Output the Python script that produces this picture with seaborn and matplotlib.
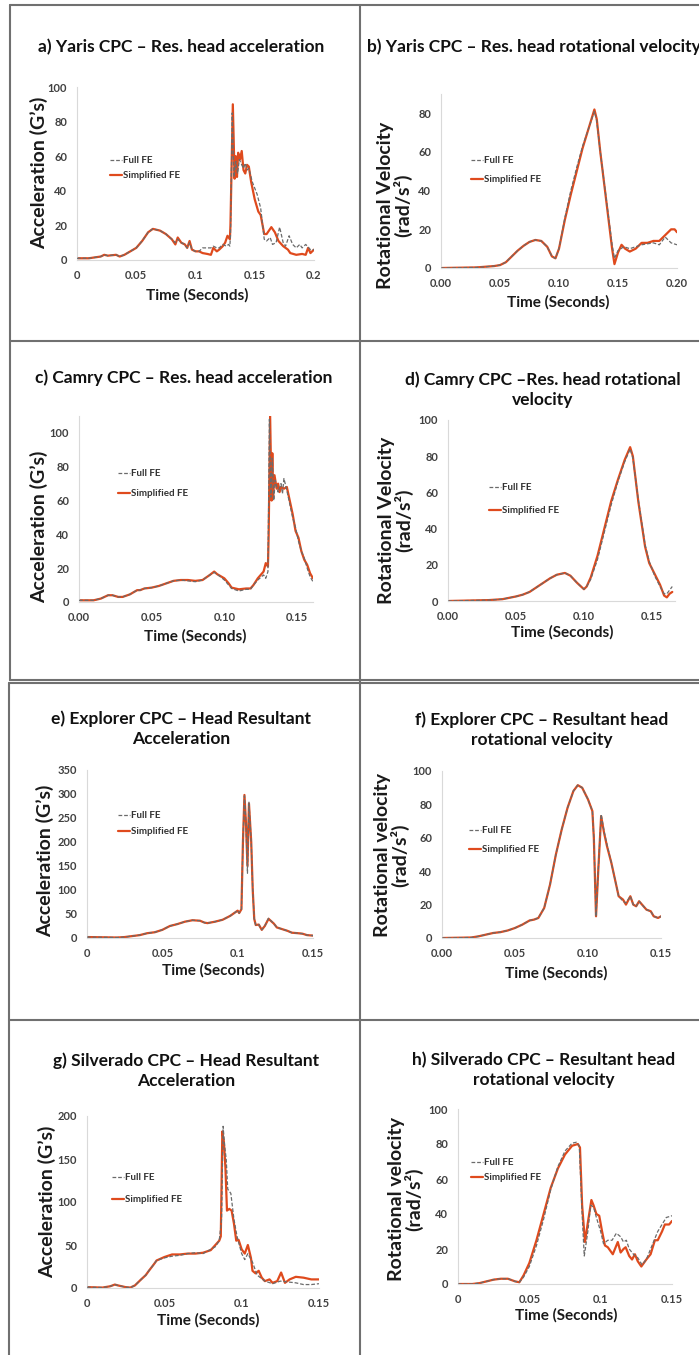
import matplotlib
matplotlib.use('Agg')
import matplotlib.pyplot as plt
import seaborn as sns
from matplotlib.lines import Line2D

# ---- data: (time in s, value) ----
a_full = [(0, 1), (0.01, 1), (0.02, 2), (0.023, 3), (0.026, 2.5), (0.033, 3), (0.036, 2), (0.04, 3), (0.045, 5),
          (0.05, 7), (0.055, 11), (0.06, 16), (0.064, 18), (0.07, 17), (0.075, 15), (0.08, 12), (0.083, 10),
          (0.085, 12), (0.088, 10), (0.091, 9), (0.093, 7), (0.095, 10), (0.097, 6), (0.1, 5), (0.103, 5),
          (0.106, 7), (0.11, 7), (0.113, 7), (0.115, 8), (0.118, 7), (0.12, 7), (0.123, 9), (0.126, 8),
          (0.128, 9), (0.129, 8), (0.1295, 14), (0.131, 85), (0.1325, 48), (0.134, 57), (0.1355, 50),
          (0.137, 58), (0.139, 55), (0.1405, 53), (0.142, 56), (0.1435, 52), (0.145, 53), (0.148, 45),
          (0.152, 38), (0.155, 30), (0.158, 12), (0.16, 11), (0.163, 13), (0.165, 9), (0.168, 10), (0.171, 19),
          (0.174, 10), (0.176, 8), (0.179, 14), (0.182, 9), (0.185, 7), (0.188, 9), (0.19, 7), (0.193, 9),
          (0.197, 6), (0.2, 6)]
a_simp = [(0, 1), (0.01, 1), (0.02, 2), (0.023, 3), (0.026, 2.5), (0.033, 3), (0.036, 2), (0.04, 3), (0.045, 5),
          (0.05, 7), (0.055, 11), (0.06, 16), (0.064, 18), (0.07, 17), (0.075, 15), (0.08, 12), (0.083, 9),
          (0.085, 13), (0.088, 10), (0.091, 9), (0.093, 7), (0.095, 11), (0.097, 6), (0.1, 5), (0.103, 5),
          (0.106, 4), (0.11, 3.5), (0.113, 3), (0.115, 7), (0.118, 5), (0.12, 6), (0.123, 8), (0.125, 10),
          (0.127, 14), (0.129, 12), (0.1295, 20), (0.1315, 90), (0.133, 47), (0.134, 60), (0.135, 48),
          (0.136, 62), (0.1375, 58), (0.139, 63), (0.1405, 52), (0.142, 50), (0.1435, 55), (0.145, 54),
          (0.147, 45), (0.15, 35), (0.153, 28), (0.155, 26), (0.158, 15), (0.16, 15), (0.164, 19), (0.167, 16),
          (0.17, 11), (0.174, 8), (0.178, 6), (0.18, 4), (0.185, 3), (0.19, 3.5), (0.193, 3), (0.195, 7),
          (0.197, 4), (0.2, 6)]

b_full = [(0, 0), (0.03, 0.3), (0.045, 1), (0.05, 1.5), (0.055, 3), (0.06, 6), (0.065, 9), (0.07, 11.5),
          (0.075, 13.5), (0.08, 14.5), (0.085, 14), (0.09, 11), (0.094, 6), (0.097, 5), (0.1, 10), (0.105, 26),
          (0.11, 40), (0.115, 52), (0.12, 63), (0.125, 72), (0.13, 81), (0.132, 76), (0.135, 60), (0.14, 36),
          (0.145, 12), (0.147, 5), (0.15, 9), (0.155, 11), (0.16, 10), (0.165, 11), (0.17, 12), (0.175, 12.5),
          (0.18, 13), (0.185, 12), (0.19, 16), (0.195, 13), (0.2, 12)]
b_simp = [(0, 0), (0.03, 0.3), (0.045, 1), (0.05, 1.5), (0.055, 3), (0.06, 6), (0.065, 9), (0.07, 11.5),
          (0.075, 13.5), (0.08, 14.5), (0.085, 14), (0.09, 11), (0.094, 6), (0.097, 5), (0.1, 10), (0.105, 25),
          (0.11, 38), (0.115, 50), (0.12, 62), (0.125, 72), (0.13, 82), (0.132, 77), (0.135, 60), (0.14, 35),
          (0.145, 10), (0.147, 2), (0.15, 8), (0.153, 12), (0.156, 10), (0.16, 8.5), (0.165, 10), (0.17, 13),
          (0.175, 13), (0.18, 14), (0.185, 14), (0.19, 17), (0.195, 20), (0.198, 20), (0.2, 18.5)]

c_full = [(0, 1), (0.01, 1), (0.015, 2), (0.02, 4), (0.023, 4), (0.027, 3), (0.03, 3), (0.035, 4.5), (0.038, 6),
          (0.04, 7), (0.042, 7), (0.045, 8), (0.05, 8.5), (0.055, 9.5), (0.06, 11), (0.065, 12.5), (0.07, 13),
          (0.075, 12.5), (0.08, 12), (0.085, 13), (0.09, 16), (0.093, 17.5), (0.095, 16.5), (0.1, 13),
          (0.103, 10), (0.105, 8), (0.11, 6.5), (0.115, 7.5), (0.118, 7.5), (0.12, 10), (0.123, 13), (0.127, 16),
          (0.1285, 14), (0.13, 18), (0.1305, 60), (0.131, 108), (0.132, 62), (0.133, 85), (0.134, 60),
          (0.135, 72), (0.137, 65), (0.139, 70), (0.14, 64), (0.141, 73), (0.143, 66), (0.145, 58), (0.147, 50),
          (0.149, 44), (0.151, 36), (0.153, 30), (0.155, 26), (0.157, 20), (0.159, 15), (0.161, 12)]
c_simp = [(0, 1), (0.01, 1), (0.015, 2), (0.02, 4), (0.023, 4), (0.027, 3), (0.03, 3), (0.035, 4.5), (0.038, 6),
          (0.04, 7), (0.042, 7), (0.045, 8), (0.05, 8.5), (0.055, 9.5), (0.06, 11), (0.065, 12.5), (0.07, 13),
          (0.075, 13), (0.08, 12.5), (0.085, 13), (0.09, 16), (0.093, 18), (0.095, 16.5), (0.1, 14), (0.103, 11),
          (0.105, 8.5), (0.11, 7.5), (0.115, 8), (0.118, 8), (0.12, 10), (0.123, 14), (0.127, 18), (0.1285, 23),
          (0.13, 21), (0.1305, 40), (0.1315, 110), (0.1325, 60), (0.133, 88), (0.1335, 62), (0.1345, 75),
          (0.136, 67), (0.137, 70), (0.138, 65), (0.139, 68), (0.141, 67), (0.143, 68), (0.145, 60), (0.147, 52),
          (0.149, 42), (0.151, 38), (0.153, 30), (0.155, 25), (0.157, 22), (0.159, 17), (0.161, 14)]

d_full = [(0, 0), (0.03, 0.5), (0.04, 1), (0.05, 2.5), (0.055, 3.5), (0.06, 5), (0.065, 7.5), (0.07, 10),
          (0.075, 12.5), (0.08, 14.5), (0.086, 15.5), (0.09, 14), (0.095, 10), (0.1, 6.5), (0.102, 8),
          (0.105, 12), (0.11, 23), (0.115, 38), (0.12, 53), (0.125, 66), (0.13, 77), (0.134, 84), (0.136, 79),
          (0.14, 56), (0.145, 31), (0.148, 22), (0.152, 14), (0.156, 8), (0.159, 4), (0.161, 4), (0.163, 6),
          (0.165, 8)]
d_simp = [(0, 0), (0.03, 0.5), (0.04, 1), (0.05, 2.5), (0.055, 3.5), (0.06, 5), (0.065, 7.5), (0.07, 10),
          (0.075, 12.5), (0.08, 14.5), (0.086, 15.5), (0.09, 14), (0.095, 10), (0.1, 6.5), (0.102, 8),
          (0.105, 13), (0.11, 25), (0.115, 40), (0.12, 55), (0.125, 67), (0.13, 78), (0.134, 85), (0.136, 80),
          (0.14, 55), (0.145, 30), (0.148, 21), (0.152, 15), (0.156, 9), (0.159, 3), (0.161, 2), (0.163, 4),
          (0.165, 5)]

e_full = [(0, 2), (0.02, 1), (0.025, 2), (0.03, 4), (0.035, 6), (0.04, 10), (0.045, 12), (0.05, 17), (0.055, 25),
          (0.06, 29), (0.065, 34), (0.07, 37), (0.075, 36), (0.078, 32), (0.08, 31), (0.085, 34), (0.09, 38),
          (0.095, 46), (0.1, 57), (0.101, 52), (0.1025, 60), (0.1035, 200), (0.1045, 296), (0.1055, 240),
          (0.1065, 135), (0.1075, 283), (0.109, 200), (0.11, 100), (0.111, 40), (0.112, 27), (0.114, 28),
          (0.116, 17), (0.118, 25), (0.1205, 41), (0.124, 30), (0.126, 22), (0.13, 18), (0.133, 15),
          (0.136, 11), (0.14, 10), (0.143, 9), (0.146, 6), (0.15, 5)]
e_simp = [(0, 2), (0.02, 1), (0.025, 2), (0.03, 4), (0.035, 6), (0.04, 10), (0.045, 12), (0.05, 17), (0.055, 25),
          (0.06, 29), (0.065, 34), (0.07, 37), (0.075, 36), (0.078, 32), (0.08, 31), (0.085, 34), (0.09, 38),
          (0.095, 46), (0.1, 57), (0.101, 52), (0.1025, 60), (0.1035, 200), (0.1045, 298), (0.1055, 240),
          (0.1065, 150), (0.1075, 280), (0.109, 200), (0.11, 100), (0.111, 40), (0.112, 27), (0.114, 28),
          (0.116, 17), (0.118, 25), (0.1205, 40), (0.124, 30), (0.126, 22), (0.13, 18), (0.133, 15),
          (0.136, 11), (0.14, 10), (0.143, 9), (0.146, 6), (0.15, 5)]

f_full = [(0, 0), (0.02, 0.3), (0.025, 1), (0.03, 2), (0.035, 3), (0.04, 3.5), (0.045, 4.5), (0.05, 6), (0.055, 8),
          (0.06, 10.5), (0.063, 11), (0.066, 12), (0.07, 18), (0.074, 32), (0.078, 50), (0.082, 65), (0.086, 78),
          (0.09, 88), (0.093, 91.5), (0.096, 90), (0.1, 83), (0.103, 76), (0.104, 60), (0.1055, 13), (0.107, 40),
          (0.109, 74), (0.111, 64), (0.113, 56), (0.116, 45), (0.119, 33), (0.121, 25), (0.124, 22), (0.126, 21),
          (0.129, 25), (0.131, 20), (0.133, 19), (0.135, 22), (0.137, 20), (0.14, 17), (0.143, 16), (0.145, 13),
          (0.148, 12), (0.15, 13)]
f_simp = [(0, 0), (0.02, 0.3), (0.025, 1), (0.03, 2), (0.035, 3), (0.04, 3.5), (0.045, 4.5), (0.05, 6), (0.055, 8),
          (0.06, 10.5), (0.063, 11), (0.066, 12), (0.07, 18), (0.074, 32), (0.078, 50), (0.082, 65), (0.086, 78),
          (0.09, 88), (0.093, 91.5), (0.096, 90), (0.1, 83), (0.103, 76), (0.104, 60), (0.1055, 13), (0.107, 40),
          (0.109, 73), (0.111, 63), (0.113, 55), (0.116, 45), (0.119, 33), (0.121, 25), (0.124, 23), (0.126, 20),
          (0.129, 25), (0.131, 20), (0.133, 19), (0.135, 22), (0.137, 20), (0.14, 17), (0.143, 16), (0.145, 13),
          (0.148, 12), (0.15, 13)]

g_full = [(0, 1), (0.01, 0.5), (0.015, 2), (0.018, 4), (0.02, 3), (0.025, 1), (0.028, 0.5), (0.031, 3), (0.035, 10),
          (0.038, 15), (0.04, 20), (0.043, 27), (0.045, 32), (0.05, 35), (0.055, 37), (0.06, 38), (0.065, 40),
          (0.07, 41), (0.075, 40), (0.08, 45), (0.083, 48), (0.0855, 55), (0.087, 80), (0.088, 188), (0.089, 165),
          (0.09, 150), (0.091, 115), (0.093, 110), (0.095, 80), (0.097, 60), (0.1, 40), (0.102, 33), (0.104, 40),
          (0.107, 30), (0.11, 15), (0.115, 8), (0.12, 5), (0.125, 8), (0.13, 7), (0.135, 6), (0.14, 4),
          (0.145, 4), (0.15, 5)]
g_simp = [(0, 1), (0.01, 0.5), (0.015, 2), (0.018, 4), (0.02, 3), (0.025, 1), (0.028, 0.5), (0.031, 3), (0.035, 10),
          (0.038, 15), (0.04, 20), (0.043, 27), (0.045, 32), (0.05, 36), (0.055, 39), (0.06, 39), (0.065, 40),
          (0.07, 40), (0.075, 41), (0.08, 44), (0.083, 50), (0.0855, 55), (0.0865, 60), (0.087, 120),
          (0.0875, 182), (0.0885, 170), (0.0895, 140), (0.0905, 90), (0.092, 92), (0.0935, 90), (0.095, 75),
          (0.0965, 55), (0.098, 56), (0.1, 45), (0.102, 40), (0.104, 50), (0.106, 35), (0.107, 20), (0.109, 17),
          (0.111, 20), (0.113, 12), (0.115, 8), (0.118, 10), (0.12, 6), (0.123, 8), (0.1255, 18), (0.128, 6),
          (0.131, 10), (0.135, 13), (0.14, 12), (0.145, 10), (0.15, 10)]

h_full = [(0, 0), (0.01, 0), (0.015, 0.5), (0.02, 1.5), (0.025, 2.5), (0.03, 3), (0.035, 3), (0.04, 1.5), (0.043, 1),
          (0.046, 4), (0.05, 10), (0.055, 22), (0.06, 37), (0.065, 54), (0.07, 67), (0.075, 76), (0.08, 80.5),
          (0.083, 81), (0.085, 79), (0.087, 40), (0.0885, 16), (0.091, 30), (0.093, 45), (0.095, 44), (0.097, 38),
          (0.1, 30), (0.102, 23), (0.105, 25), (0.108, 25), (0.111, 29), (0.114, 27), (0.116, 24), (0.118, 25),
          (0.12, 20), (0.123, 17), (0.126, 15), (0.129, 11), (0.132, 14), (0.135, 20), (0.138, 26), (0.14, 30),
          (0.143, 34), (0.146, 38), (0.15, 39)]
h_simp = [(0, 0), (0.01, 0), (0.015, 0.5), (0.02, 1.5), (0.025, 2.5), (0.03, 3), (0.035, 3), (0.04, 1.5), (0.043, 1),
          (0.046, 5), (0.05, 12), (0.055, 25), (0.06, 40), (0.065, 55), (0.07, 66), (0.075, 74), (0.08, 79),
          (0.084, 80), (0.0855, 78), (0.087, 45), (0.089, 24), (0.091, 35), (0.0935, 48), (0.095, 45), (0.097, 40),
          (0.099, 39), (0.101, 30), (0.103, 22), (0.105, 21), (0.1085, 17), (0.11, 20), (0.112, 24), (0.114, 18),
          (0.116, 20), (0.1175, 21), (0.12, 16), (0.122, 14), (0.124, 17), (0.126, 13), (0.1285, 10), (0.132, 14),
          (0.135, 17), (0.138, 25), (0.14, 25), (0.143, 30), (0.145, 34), (0.148, 34), (0.15, 36)]

# ticks
x_ticks_20 = [0, 0.05, 0.1, 0.15, 0.2]
x_ticks_15 = [0, 0.05, 0.1, 0.15]
x_labels_a = ['0', '0.05', '0.1', '0.15', '0.2']
x_labels_b = ['0.00', '0.05', '0.10', '0.15', '0.20']
x_labels_2dec = ['0.00', '0.05', '0.10', '0.15']
x_labels_gen = ['0', '0.05', '0.1', '0.15']
y_ticks_100 = [0, 20, 40, 60, 80, 100]
y_ticks_80 = [0, 20, 40, 60, 80]
y_ticks_350 = [0, 50, 100, 150, 200, 250, 300, 350]
y_ticks_200 = [0, 50, 100, 150, 200]

titles = ['a) Yaris CPC – Res. head acceleration',
          'b) Yaris CPC – Res. head rotational velocity',
          'c) Camry CPC – Res. head acceleration',
          'd) Camry CPC –Res. head rotational\nvelocity',
          'e) Explorer CPC – Head Resultant\nAcceleration',
          'f) Explorer CPC – Resultant head\nrotational velocity',
          'g) Silverado CPC – Head Resultant\nAcceleration',
          'h) Silverado CPC – Resultant head\nrotational velocity']
acc_label = 'Acceleration (G’s)'
vel_label = 'Rotational Velocity\n(rad/s²)'
vel_label2 = 'Rotational velocity\n(rad/s²)'
time_label = 'Time (Seconds)'

# ---- layout (pixels in the 699x1355 picture) ----
W, H = 699, 1355
ORANGE = '#DF4A1D'
GRAY = '#6b6b6b'

panels = [
    # data, axes box (x0, x1, ytop, ybot), xlim, ylim, xticks, xlabels, yticks, ylabel,
    # title pos, xlabel pos, ylabel pos, legend (x, first row y, pitch)
    dict(full=a_full, simp=a_simp, box=(77, 314, 87, 260), xlim=0.2, ylim=100, xt=x_ticks_20, xl=x_labels_a,
         yt=y_ticks_100, yl=acc_label, tpos=(181, 47, 'center'), xlp=(197, 295), ylp=(39, 173), leg=(110, 162, 17)),
    dict(full=b_full, simp=b_simp, box=(441, 677, 94, 268), xlim=0.2, ylim=90, xt=x_ticks_20, xl=x_labels_b,
         yt=y_ticks_80, yl=vel_label, tpos=(367, 47, 'left'), xlp=(558, 302), ylp=(395, 205), leg=(471, 162, 21)),
    dict(full=c_full, simp=c_simp, box=(79, 313, 416, 602), xlim=0.161, ylim=110, xt=x_ticks_15, xl=x_labels_2dec,
         yt=y_ticks_100, yl=acc_label, tpos=(184, 378, 'center'), xlp=(195, 636), ylp=(39, 527), leg=(118, 475, 22)),
    dict(full=d_full, simp=d_simp, box=(448, 675, 420, 601), xlim=0.167, ylim=100, xt=x_ticks_15, xl=x_labels_2dec,
         yt=y_ticks_100, yl=vel_label, tpos=(543, 390, 'center'), xlp=(562, 632), ylp=(396, 520), leg=(489, 489, 25)),
    dict(full=e_full, simp=e_simp, box=(87, 313, 770, 938), xlim=0.15, ylim=350, xt=x_ticks_15, xl=x_labels_gen,
         yt=y_ticks_350, yl=acc_label, tpos=(181, 729, 'center'), xlp=(213, 970), ylp=(45, 861), leg=(118, 817, 18)),
    dict(full=f_full, simp=f_simp, box=(442, 661, 771, 938), xlim=0.15, ylim=100, xt=x_ticks_15, xl=x_labels_2dec,
         yt=y_ticks_100, yl=vel_label2, tpos=(542, 730, 'center'), xlp=(556, 973), ylp=(392, 855), leg=(469, 832, 21)),
    dict(full=g_full, simp=g_simp, box=(87, 319, 1116, 1288), xlim=0.15, ylim=200, xt=x_ticks_15, xl=x_labels_gen,
         yt=y_ticks_200, yl=acc_label, tpos=(186, 1071, 'center'), xlp=(208, 1320), ylp=(47, 1202), leg=(112, 1179, 24)),
    dict(full=h_full, simp=h_simp, box=(458, 672, 1109, 1284), xlim=0.15, ylim=100, xt=x_ticks_15, xl=x_labels_gen,
         yt=y_ticks_100, yl=vel_label2, tpos=(544, 1070, 'center'), xlp=(566, 1315), ylp=(406, 1199), leg=(471, 1164, 17)),
]


def fx(x):
    return x / W


def fy(y):
    return 1 - y / H


sns.set_theme(style='white')
plt.rcParams['font.family'] = ['Lato', 'DejaVu Sans']
plt.rcParams['font.weight'] = 'bold'
plt.rcParams['axes.labelweight'] = 'bold'

fig = plt.figure(figsize=(W / 100, H / 100), dpi=100)
fig.patch.set_facecolor('white')

for p, title in zip(panels, titles):
    x0, x1, yt, yb = p['box']
    ax = fig.add_axes([fx(x0), fy(yb), (x1 - x0) / W, (yb - yt) / H])
    tf, vf = zip(*p['full'])
    ts, vs = zip(*p['simp'])
    sns.lineplot(x=list(tf), y=list(vf), ax=ax, color=GRAY, linewidth=0.9, linestyle=(0, (3, 1.5)),
                 label='Full FE', zorder=3)
    sns.lineplot(x=list(ts), y=list(vs), ax=ax, color=ORANGE, linewidth=1.6, label='Simplified FE', zorder=2)
    ax.set_xlim(0, p['xlim'])
    ax.set_ylim(0, p['ylim'])
    ax.set_xticks(p['xt'])
    ax.set_xticklabels(p['xl'])
    ax.set_yticks(p['yt'])
    ax.tick_params(length=0, pad=7, labelsize=8, labelcolor='#404040')
    for side in ['top', 'right']:
        ax.spines[side].set_visible(False)
    for side in ['left', 'bottom']:
        ax.spines[side].set_color('#d9d9d9')
        ax.spines[side].set_linewidth(0.8)
    ax.set_facecolor('none')

    ax.set_xlabel(time_label, fontsize=11, fontweight='bold', color='#1a1a1a')
    ax.xaxis.label.set_verticalalignment('center')
    ax.xaxis.set_label_coords(fx(p['xlp'][0]), fy(p['xlp'][1]), transform=fig.transFigure)
    ax.set_ylabel(p['yl'], fontsize=14, fontweight='bold', color='#1a1a1a', linespacing=0.95)
    ax.yaxis.label.set_verticalalignment('center')
    ax.yaxis.set_label_coords(fx(p['ylp'][0]), fy(p['ylp'][1]), transform=fig.transFigure)

    lx, ly, pitch = p['leg']
    ax.legend(loc='upper left', bbox_to_anchor=(fx(lx), fy(ly - 6)), bbox_transform=fig.transFigure,
              frameon=False, fontsize=7, handlelength=1.2, handletextpad=0.15,
              labelspacing=(pitch - 11) / 9.7, borderpad=0, borderaxespad=0, labelcolor='#333333')

    tx, ty, ha = p['tpos']
    fig.text(fx(tx), fy(ty), title, ha=ha, va='center', fontsize=12.5, fontweight='bold',
             color='#111111', linespacing=1.3, multialignment='center')

# table borders
border = dict(color='#707070', lw=1.5, transform=fig.transFigure)
for (xa, ya, xb, yb) in [(10, 5, 699, 5), (10, 5, 10, 680), (9, 683, 9, 1355), (360, 5, 360, 1355),
                         (10, 341, 699, 341), (10, 680, 699, 680), (9, 683, 699, 683), (9, 1020, 699, 1020)]:
    fig.add_artist(Line2D([fx(xa), fx(xb)], [fy(ya), fy(yb)], **border))

fig.savefig('out.png', dpi=100)
